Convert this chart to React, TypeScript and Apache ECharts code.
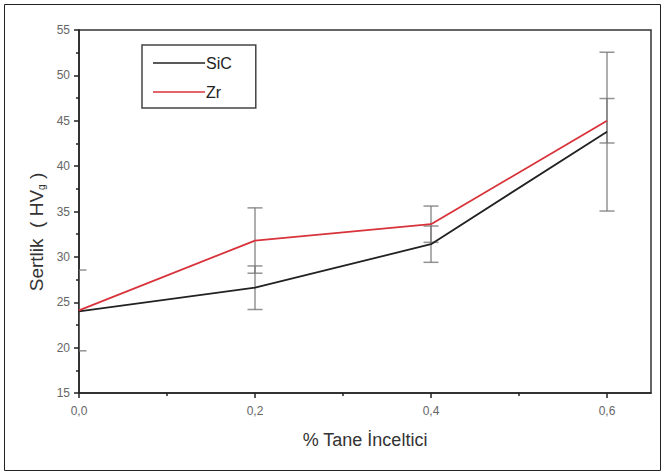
import React, { useEffect, useRef } from "react";
import * as echarts from "echarts";

const xValues = [0, 0.2, 0.4, 0.6];
const sicValues = [24.0, 26.6, 31.4, 43.8];
const zrValues = [24.1, 31.8, 33.6, 45.0];
const sicErrors = [0, 2.4, 2.0, 8.75];
const zrErrors = [4.45, 3.6, 2.0, 2.45];
const xMajorTicks = [0, 0.2, 0.4, 0.6];
const xMinorTicks = [0.1, 0.3, 0.5];

const FONT = "'Liberation Sans', Arial, sans-serif";

export default function App() {
  const ref = useRef<HTMLDivElement>(null);
  useEffect(() => {
    if (!ref.current) return;
    const chart = echarts.init(ref.current, undefined, { renderer: "svg" });
    const pairs = (vals: number[]) => xValues.map((x, i) => [x, vals[i]]);
    const errData = (vals: number[], errs: number[]) =>
      xValues
        .map((x, i) => [x, vals[i] - errs[i], vals[i] + errs[i], errs[i]])
        .filter((d) => d[3] > 0);
    const renderErr = (params: any, api: any) => {
      const x = api.value(0);
      const top = api.coord([x, api.value(2)]);
      const bot = api.coord([x, api.value(1)]);
      const hw = 7.5;
      const style = { stroke: "rgba(120,120,120,0.8)", lineWidth: 1.5 };
      return {
        type: "group",
        children: [
          { type: "line", shape: { x1: top[0], y1: top[1], x2: bot[0], y2: bot[1] }, style },
          { type: "line", shape: { x1: top[0] - hw, y1: top[1], x2: top[0] + hw, y2: top[1] }, style },
          { type: "line", shape: { x1: bot[0] - hw, y1: bot[1], x2: bot[0] + hw, y2: bot[1] }, style },
        ],
      };
    };
    chart.setOption({
      animation: false,
      backgroundColor: "#ffffff",
      grid: {
        left: 79,
        right: 13,
        top: 30,
        bottom: 81,
        show: true,
        borderColor: "#333",
        borderWidth: 1.5,
        containLabel: false,
      },
      legend: {
        data: [
          { name: "SiC", icon: "rect", itemStyle: { color: "#222" } },
          { name: "Zr", icon: "rect", itemStyle: { color: "#d8333a" } },
        ],
        orient: "vertical",
        left: 142,
        top: 45,
        padding: [10, 24, 8, 11],
        itemGap: 13,
        itemWidth: 52,
        itemHeight: 1.7,
        borderColor: "#444",
        borderWidth: 1.5,
        borderRadius: 0,
        textStyle: { fontFamily: FONT, fontSize: 16, lineHeight: 16, color: "#222", padding: [0, 0, 0, -4] },
      },
      xAxis: [
        {
          type: "value",
          min: 0,
          max: 0.65,
          position: "bottom",
          axisLine: { show: true, onZero: false, lineStyle: { color: "#222", width: 1.5 } },
          axisTick: { show: true, customValues: xMajorTicks, length: 5, lineStyle: { color: "#222", width: 1.5 } },
          axisLabel: {
            customValues: xMajorTicks,
            formatter: (v: number) => v.toFixed(1).replace(".", ","),
            fontFamily: FONT,
            fontSize: 12,
            color: "#666",
            margin: 12,
          },
          splitLine: { show: false },
          name: "% Tane İnceltici",
          nameLocation: "middle",
          nameGap: 38,
          nameTextStyle: { fontFamily: FONT, fontSize: 18, color: "#333" },
        },
        {
          type: "value",
          min: 0,
          max: 0.65,
          position: "bottom",
          axisLine: { show: false, onZero: false },
          axisTick: { show: true, customValues: xMinorTicks, length: 3, lineStyle: { color: "#222", width: 1.5 } },
          axisLabel: { show: false },
          splitLine: { show: false },
        },
      ],
      yAxis: {
        type: "value",
        min: 15,
        max: 55,
        interval: 5,
        axisLine: { show: true, onZero: false, lineStyle: { color: "#222", width: 1.5 } },
        axisTick: { show: true, length: 5, lineStyle: { color: "#222", width: 1.5 } },
        minorTick: { show: true, splitNumber: 2, length: 3, lineStyle: { color: "#222", width: 1.5 } },
        axisLabel: { fontFamily: FONT, fontSize: 12, color: "#666", margin: 9 },
        splitLine: { show: false },
        minorSplitLine: { show: false },
      },
      graphic: [
        {
          type: "rect",
          shape: { x: 4.5, y: 4.5, width: 656, height: 466 },
          style: { fill: "none", stroke: "#222", lineWidth: 1 },
          silent: true,
        },
        {
          type: "text",
          x: 36,
          y: 232,
          rotation: Math.PI / 2,
          style: {
            text: "Sertlik  ( HV{s|g} )",
            fontFamily: FONT,
            fontSize: 19,
            fill: "#333",
            align: "center",
            verticalAlign: "middle",
            rich: {
              s: { fontFamily: FONT, fontSize: 10, fill: "#333", padding: [10, 0, 0, 0] },
            },
          },
        },
      ],
      series: [
        {
          name: "SiC-err",
          type: "custom",
          xAxisIndex: 0,
          clip: true,
          z: 1,
          renderItem: renderErr,
          encode: { x: 0, y: [1, 2] },
          data: errData(sicValues, sicErrors),
        },
        {
          name: "Zr-err",
          type: "custom",
          xAxisIndex: 0,
          clip: true,
          z: 1,
          renderItem: renderErr,
          encode: { x: 0, y: [1, 2] },
          data: errData(zrValues, zrErrors),
        },
        {
          name: "SiC",
          type: "line",
          xAxisIndex: 0,
          data: pairs(sicValues),
          symbol: "none",
          z: 3,
          lineStyle: { color: "#222", width: 1.8 },
          itemStyle: { color: "#222" },
        },
        {
          name: "Zr",
          type: "line",
          xAxisIndex: 0,
          data: pairs(zrValues),
          symbol: "none",
          z: 4,
          lineStyle: { color: "#d8333a", width: 1.8 },
          itemStyle: { color: "#d8333a" },
        },
      ],
    });
    return () => chart.dispose();
  }, []);
  return (
    <div
      ref={ref}
      style={{ position: "fixed", left: 0, top: 0, width: 664, height: 474, background: "#fff" }}
    />
  );
}
